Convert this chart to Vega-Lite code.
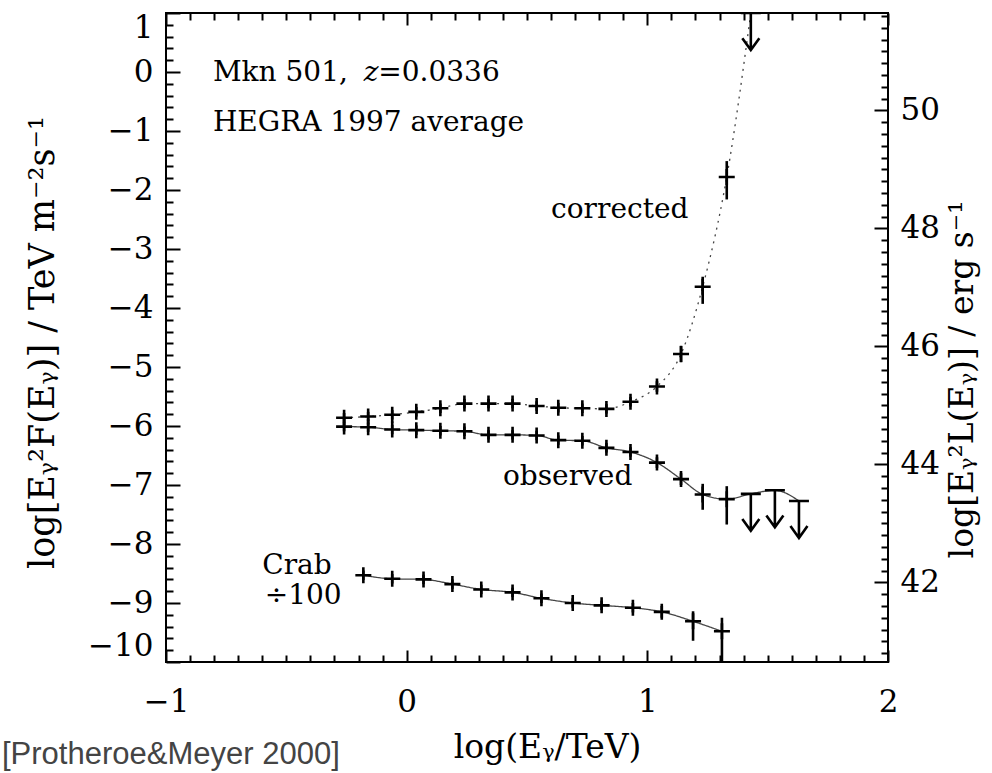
{
  "$schema": "https://vega.github.io/schema/vega-lite/v6.json",
  "width": 722,
  "height": 649,
  "autosize": "none",
  "padding": {"left": 166, "top": 13, "right": 104, "bottom": 111},
  "background": "white",
  "config": {
    "view": {"stroke": "black", "strokeWidth": 2},
    "font": "DejaVu Serif"
  },
  "title": {
    "text": "[Protheroe&Meyer 2000]",
    "orient": "bottom",
    "anchor": "start",
    "frame": "group",
    "offset": 0,
    "dx": -164,
    "dy": -24,
    "font": "Liberation Sans",
    "fontSize": 31,
    "fontWeight": "normal",
    "color": "#444444"
  },
  "datasets": {
    "spectra": [
      {"series": "corrected", "x": -0.26, "y": -5.86, "lo": -5.94, "hi": -5.78, "lim": false},
      {"series": "corrected", "x": -0.16, "y": -5.84, "lo": -5.92, "hi": -5.76, "lim": false},
      {"series": "corrected", "x": -0.06, "y": -5.81, "lo": -5.89, "hi": -5.73, "lim": false},
      {"series": "corrected", "x": 0.04, "y": -5.76, "lo": -5.84, "hi": -5.68, "lim": false},
      {"series": "corrected", "x": 0.14, "y": -5.70, "lo": -5.78, "hi": -5.62, "lim": false},
      {"series": "corrected", "x": 0.24, "y": -5.62, "lo": -5.70, "hi": -5.54, "lim": false},
      {"series": "corrected", "x": 0.34, "y": -5.62, "lo": -5.70, "hi": -5.54, "lim": false},
      {"series": "corrected", "x": 0.44, "y": -5.62, "lo": -5.70, "hi": -5.54, "lim": false},
      {"series": "corrected", "x": 0.54, "y": -5.66, "lo": -5.74, "hi": -5.58, "lim": false},
      {"series": "corrected", "x": 0.63, "y": -5.69, "lo": -5.77, "hi": -5.61, "lim": false},
      {"series": "corrected", "x": 0.73, "y": -5.70, "lo": -5.78, "hi": -5.62, "lim": false},
      {"series": "corrected", "x": 0.83, "y": -5.71, "lo": -5.79, "hi": -5.63, "lim": false},
      {"series": "corrected", "x": 0.93, "y": -5.59, "lo": -5.67, "hi": -5.51, "lim": false},
      {"series": "corrected", "x": 1.04, "y": -5.33, "lo": -5.42, "hi": -5.24, "lim": false},
      {"series": "corrected", "x": 1.14, "y": -4.78, "lo": -4.92, "hi": -4.64, "lim": false},
      {"series": "corrected", "x": 1.23, "y": -3.64, "lo": -3.93, "hi": -3.47, "lim": false},
      {"series": "corrected", "x": 1.33, "y": -1.78, "lo": -2.16, "hi": -1.51, "lim": false},
      {"series": "corrected", "x": 1.43, "y": 1.0, "lim": true},
      {"series": "observed", "x": -0.26, "y": -6.01, "lo": -6.09, "hi": -5.93, "lim": false},
      {"series": "observed", "x": -0.16, "y": -6.02, "lo": -6.10, "hi": -5.94, "lim": false},
      {"series": "observed", "x": -0.06, "y": -6.06, "lo": -6.14, "hi": -5.98, "lim": false},
      {"series": "observed", "x": 0.04, "y": -6.07, "lo": -6.15, "hi": -5.99, "lim": false},
      {"series": "observed", "x": 0.14, "y": -6.08, "lo": -6.16, "hi": -6.00, "lim": false},
      {"series": "observed", "x": 0.24, "y": -6.09, "lo": -6.17, "hi": -6.01, "lim": false},
      {"series": "observed", "x": 0.34, "y": -6.15, "lo": -6.23, "hi": -6.07, "lim": false},
      {"series": "observed", "x": 0.44, "y": -6.15, "lo": -6.23, "hi": -6.07, "lim": false},
      {"series": "observed", "x": 0.54, "y": -6.16, "lo": -6.24, "hi": -6.08, "lim": false},
      {"series": "observed", "x": 0.63, "y": -6.24, "lo": -6.32, "hi": -6.16, "lim": false},
      {"series": "observed", "x": 0.73, "y": -6.25, "lo": -6.33, "hi": -6.17, "lim": false},
      {"series": "observed", "x": 0.83, "y": -6.37, "lo": -6.45, "hi": -6.29, "lim": false},
      {"series": "observed", "x": 0.93, "y": -6.44, "lo": -6.52, "hi": -6.36, "lim": false},
      {"series": "observed", "x": 1.04, "y": -6.62, "lo": -6.71, "hi": -6.53, "lim": false},
      {"series": "observed", "x": 1.14, "y": -6.90, "lo": -7.00, "hi": -6.80, "lim": false},
      {"series": "observed", "x": 1.23, "y": -7.16, "lo": -7.42, "hi": -6.98, "lim": false},
      {"series": "observed", "x": 1.33, "y": -7.24, "lo": -7.67, "hi": -7.02, "lim": false},
      {"series": "observed", "x": 1.43, "y": -7.15, "lim": true},
      {"series": "observed", "x": 1.53, "y": -7.09, "lim": true},
      {"series": "observed", "x": 1.63, "y": -7.27, "lim": true},
      {"series": "Crab", "x": -0.18, "y": -8.53, "lo": -8.61, "hi": -8.45, "lim": false},
      {"series": "Crab", "x": -0.06, "y": -8.59, "lo": -8.67, "hi": -8.51, "lim": false},
      {"series": "Crab", "x": 0.07, "y": -8.60, "lo": -8.68, "hi": -8.52, "lim": false},
      {"series": "Crab", "x": 0.19, "y": -8.68, "lo": -8.76, "hi": -8.60, "lim": false},
      {"series": "Crab", "x": 0.31, "y": -8.77, "lo": -8.85, "hi": -8.69, "lim": false},
      {"series": "Crab", "x": 0.44, "y": -8.82, "lo": -8.90, "hi": -8.74, "lim": false},
      {"series": "Crab", "x": 0.56, "y": -8.92, "lo": -9.00, "hi": -8.84, "lim": false},
      {"series": "Crab", "x": 0.69, "y": -9.00, "lo": -9.08, "hi": -8.92, "lim": false},
      {"series": "Crab", "x": 0.81, "y": -9.04, "lo": -9.12, "hi": -8.96, "lim": false},
      {"series": "Crab", "x": 0.94, "y": -9.08, "lo": -9.16, "hi": -9.00, "lim": false},
      {"series": "Crab", "x": 1.06, "y": -9.15, "lo": -9.25, "hi": -9.05, "lim": false},
      {"series": "Crab", "x": 1.19, "y": -9.31, "lo": -9.64, "hi": -9.14, "lim": false},
      {"series": "Crab", "x": 1.31, "y": -9.48, "lo": -10.3, "hi": -9.25, "lim": false}
    ],
    "notes": [
      {"x": -0.805, "y": -0.15, "text": "Mkn 501,"},
      {"x": -0.805, "y": -1.0, "text": "HEGRA 1997 average"},
      {"x": 0.60, "y": -2.47, "text": "corrected"},
      {"x": 0.40, "y": -7.0, "text": "observed"},
      {"x": -0.60, "y": -8.51, "text": "Crab"},
      {"x": -0.59, "y": -9.02, "text": "÷100"},
      {"x": -0.118, "y": -0.15, "text": "=0.0336"}
    ],
    "italic": [
      {"x": -0.178, "y": -0.15, "text": "z"}
    ]
  },
  "resolve": {"axis": {"x": "independent", "y": "independent"}},
  "layer": [
    {
      "data": {"name": "spectra"},
      "mark": {"type": "line", "interpolate": "monotone", "clip": true, "color": "#444444", "strokeWidth": 1.3},
      "encoding": {
        "x": {
          "field": "x", "type": "quantitative",
          "scale": {"domain": [-1, 2], "nice": false, "zero": false},
          "axis": {
            "orient": "bottom",
            "values": [-1, -0.9, -0.8, -0.7, -0.6, -0.5, -0.4, -0.3, -0.2, -0.1, 0, 0.1, 0.2, 0.3, 0.4, 0.5, 0.6, 0.7, 0.8, 0.9, 1, 1.1, 1.2, 1.3, 1.4, 1.5, 1.6, 1.7, 1.8, 1.9, 2],
            "domain": false, "grid": false,
            "tickColor": "black", "tickWidth": 2,
            "tickSize": {"condition": {"test": "abs(datum.value - round(datum.value)) < 0.001", "value": -12}, "value": -7},
            "labelExpr": "abs(datum.value - round(datum.value)) < 0.001 ? (datum.value < -0.5 ? '−' + abs(round(datum.value)) : '' + round(datum.value)) : ''",
            "labelFont": "DejaVu Serif", "labelFontSize": 31, "labelColor": "black",
            "labelPadding": 37, "labelOverlap": false, "labelFlush": false, "labelBound": false,
            "title": "log(Eᵧ/TeV)",
            "titleFont": "DejaVu Serif", "titleFontSize": 33, "titleFontWeight": "normal", "titleColor": "black",
            "titleX": 381, "titleY": 85, "titleAlign": "center", "titleBaseline": "middle", "titleAngle": 0
          }
        },
        "y": {
          "field": "y", "type": "quantitative",
          "scale": {"domain": [-10, 1], "nice": false, "zero": false},
          "axis": {
            "orient": "left",
            "values": [-10, -9.8, -9.6, -9.4, -9.2, -9, -8.8, -8.6, -8.4, -8.2, -8, -7.8, -7.6, -7.4, -7.2, -7, -6.8, -6.6, -6.4, -6.2, -6, -5.8, -5.6, -5.4, -5.2, -5, -4.8, -4.6, -4.4, -4.2, -4, -3.8, -3.6, -3.4, -3.2, -3, -2.8, -2.6, -2.4, -2.2, -2, -1.8, -1.6, -1.4, -1.2, -1, -0.8, -0.6, -0.4, -0.2, 0, 0.2, 0.4, 0.6, 0.8, 1],
            "domain": false, "grid": false,
            "tickColor": "black", "tickWidth": 2,
            "tickSize": {"condition": {"test": "abs(datum.value - round(datum.value)) < 0.001", "value": -14}, "value": -7},
            "labelExpr": "abs(datum.value - round(datum.value)) < 0.001 ? (datum.value < -0.5 ? '−' + abs(round(datum.value)) : '' + round(datum.value)) : ''",
            "labelFont": "DejaVu Serif", "labelFontSize": 31, "labelColor": "black",
            "labelPadding": 27, "labelOverlap": false, "labelFlush": true, "labelBound": false,
            "title": "log[Eᵧ²F(Eᵧ)]     /     TeV m⁻²s⁻¹",
            "titleFont": "DejaVu Serif", "titleFontSize": 35, "titleFontWeight": "normal", "titleColor": "black",
            "titleX": -124, "titleY": 329, "titleAlign": "center", "titleBaseline": "middle", "titleAngle": 270
          }
        },
        "strokeDash": {
          "field": "series", "type": "nominal",
          "scale": {"domain": ["corrected", "observed", "Crab"], "range": [[2, 5], [1, 0], [1, 0]]},
          "legend": null
        }
      }
    },
    {
      "data": {"name": "spectra"},
      "transform": [{"filter": "!datum.lim"}],
      "mark": {"type": "point", "shape": "M-1,0H1M0,-1V1", "size": 256, "filled": false, "color": "black", "strokeWidth": 2.6, "opacity": 1},
      "encoding": {
        "x": {
          "field": "x", "type": "quantitative",
          "scale": {"domain": [-1, 2], "nice": false, "zero": false},
          "axis": {
            "orient": "top",
            "values": [-1, -0.9, -0.8, -0.7, -0.6, -0.5, -0.4, -0.3, -0.2, -0.1, 0, 0.1, 0.2, 0.3, 0.4, 0.5, 0.6, 0.7, 0.8, 0.9, 1, 1.1, 1.2, 1.3, 1.4, 1.5, 1.6, 1.7, 1.8, 1.9, 2],
            "domain": false, "grid": false, "labels": false, "title": null,
            "tickColor": "black", "tickWidth": 2,
            "tickSize": {"condition": {"test": "abs(datum.value - round(datum.value)) < 0.001", "value": -12}, "value": -7}
          }
        },
        "y": {
          "field": "y", "type": "quantitative",
          "scale": {"domain": [-10, 1], "nice": false, "zero": false},
          "axis": {
            "orient": "right",
            "values": [-9.85, -9.65, -9.45, -9.25, -9.05, -8.85, -8.65, -8.45, -8.25, -8.05, -7.85, -7.65, -7.45, -7.25, -7.05, -6.85, -6.65, -6.45, -6.25, -6.05, -5.85, -5.65, -5.45, -5.25, -5.05, -4.85, -4.65, -4.45, -4.25, -4.05, -3.85, -3.65, -3.45, -3.25, -3.05, -2.85, -2.65, -2.45, -2.25, -2.05, -1.85, -1.65, -1.45, -1.25, -1.05, -0.85, -0.65, -0.45, -0.25, -0.05, 0.15, 0.35, 0.55, 0.75, 0.95],
            "domain": false, "grid": false,
            "tickColor": "black", "tickWidth": 2,
            "tickSize": {"condition": {"test": "abs((datum.value + 50.65) / 2 - round((datum.value + 50.65) / 2)) < 0.01", "value": -14}, "value": -7},
            "labelExpr": "abs((datum.value + 50.65) / 2 - round((datum.value + 50.65) / 2)) < 0.01 ? '' + round(datum.value + 50.65) : ''",
            "labelFont": "DejaVu Serif", "labelFontSize": 31, "labelColor": "black",
            "labelPadding": 26, "labelOverlap": false, "labelFlush": false, "labelBound": false,
            "title": "log[Eᵧ²L(Eᵧ)]     /     erg s⁻¹",
            "titleFont": "DejaVu Serif", "titleFontSize": 33, "titleFontWeight": "normal", "titleColor": "black",
            "titleX": 74, "titleY": 366, "titleAlign": "center", "titleBaseline": "middle", "titleAngle": 270
          }
        }
      }
    },
    {
      "data": {"name": "spectra"},
      "transform": [{"filter": "!datum.lim"}],
      "mark": {"type": "rule", "clip": true, "color": "black", "strokeWidth": 2.6},
      "encoding": {
        "x": {"field": "x", "type": "quantitative", "scale": {"domain": [-1, 2], "nice": false, "zero": false}, "axis": null},
        "y": {"field": "lo", "type": "quantitative", "scale": {"domain": [-10, 1], "nice": false, "zero": false}, "axis": null},
        "y2": {"field": "hi"}
      }
    },
    {
      "data": {"name": "spectra"},
      "transform": [{"filter": "datum.lim"}],
      "mark": {"type": "point", "clip": true, "shape": "M-0.27,0H0.27M0,0V1M-0.23,0.68L0,1L0.23,0.68", "size": 5476, "filled": false, "color": "black", "strokeWidth": 2.6, "opacity": 1},
      "encoding": {
        "x": {"field": "x", "type": "quantitative", "scale": {"domain": [-1, 2], "nice": false, "zero": false}, "axis": null},
        "y": {"field": "y", "type": "quantitative", "scale": {"domain": [-10, 1], "nice": false, "zero": false}, "axis": null}
      }
    },
    {
      "data": {"name": "notes"},
      "mark": {"type": "text", "align": "left", "baseline": "alphabetic", "font": "DejaVu Serif", "fontSize": 28, "color": "black"},
      "encoding": {
        "x": {"field": "x", "type": "quantitative", "scale": {"domain": [-1, 2], "nice": false, "zero": false}, "axis": null},
        "y": {"field": "y", "type": "quantitative", "scale": {"domain": [-10, 1], "nice": false, "zero": false}, "axis": null},
        "text": {"field": "text"}
      }
    },
    {
      "data": {"name": "italic"},
      "mark": {"type": "text", "align": "left", "baseline": "alphabetic", "font": "DejaVu Serif", "fontStyle": "italic", "fontSize": 28, "color": "black"},
      "encoding": {
        "x": {"field": "x", "type": "quantitative", "scale": {"domain": [-1, 2], "nice": false, "zero": false}, "axis": null},
        "y": {"field": "y", "type": "quantitative", "scale": {"domain": [-10, 1], "nice": false, "zero": false}, "axis": null},
        "text": {"field": "text"}
      }
    }
  ]
}
